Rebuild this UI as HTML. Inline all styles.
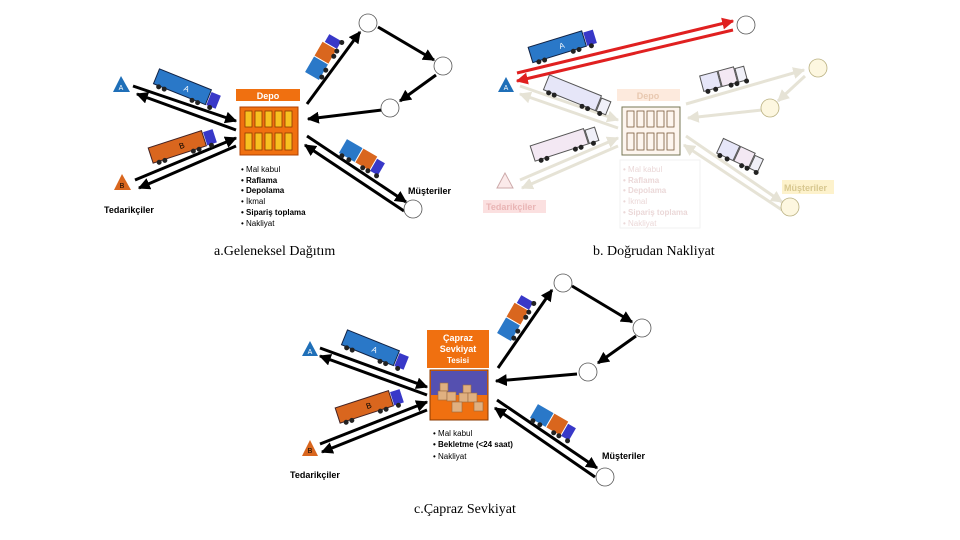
<!DOCTYPE html>
<html><head><meta charset="utf-8"><style>
body{margin:0;background:#fff;width:960px;height:540px;overflow:hidden}
svg{display:block}
text{font-family:"Liberation Sans",sans-serif}
.cap{font-family:"Liberation Serif",serif;font-size:14px}
.b{font-weight:bold}
</style></head><body>
<svg width="960" height="540" viewBox="0 0 960 540">
<defs>
<marker id="ah" viewBox="0 0 10 10" refX="9" refY="5" markerWidth="4" markerHeight="4" orient="auto"><path d="M0,0L10,5L0,10z" fill="#000"/></marker>
<marker id="ar" viewBox="0 0 10 10" refX="9" refY="5" markerWidth="4" markerHeight="4" orient="auto"><path d="M0,0L10,5L0,10z" fill="#e02020"/></marker>
<marker id="ap" viewBox="0 0 10 10" refX="9" refY="5" markerWidth="4" markerHeight="4" orient="auto"><path d="M0,0L10,5L0,10z" fill="#e6e3d6"/></marker>
<g id="wh"><circle cx="-28" cy="9" r="2.5" fill="#222"/><circle cx="-22" cy="9" r="2.5" fill="#222"/><circle cx="8" cy="9" r="2.5" fill="#222"/><circle cx="14" cy="9" r="2.5" fill="#222"/><circle cx="27" cy="9" r="2.5" fill="#222"/></g>
<g id="wh2"><circle cx="-18" cy="9" r="2.5" fill="#222"/><circle cx="-10" cy="9" r="2.5" fill="#222"/><circle cx="6" cy="9" r="2.5" fill="#222"/><circle cx="12" cy="9" r="2.5" fill="#222"/><circle cx="22" cy="9" r="2.5" fill="#222"/></g>
</defs>

<!-- ===== a ===== -->
<g stroke="#000" stroke-width="3" fill="none" marker-end="url(#ah)">
<line x1="133" y1="86" x2="236" y2="121"/>
<line x1="236" y1="130" x2="137" y2="94"/>
<line x1="135" y1="180" x2="236" y2="138"/>
<line x1="236" y1="146" x2="139" y2="188"/>
<line x1="307" y1="104" x2="360" y2="32"/>
<line x1="378" y1="27" x2="434" y2="60"/>
<line x1="436" y1="75" x2="400" y2="101"/>
<line x1="382" y1="110" x2="308" y2="119"/>
<line x1="307" y1="136" x2="406" y2="202"/>
<line x1="404" y1="211" x2="305" y2="145"/>
</g>
<polygon points="121,76 113,92 130,92" fill="#1f6fb8"/><text x="121" y="90" font-size="7" fill="#fff" text-anchor="middle">A</text>
<polygon points="122,174 114,190 131,190" fill="#d9661e"/><text x="122" y="188" font-size="7" fill="#000" text-anchor="middle">B</text>
<text x="104" y="213" font-size="9" class="b">Tedarikçiler</text>
<rect x="236" y="89" width="64" height="12" fill="#f07010"/><text x="268" y="99" font-size="9" fill="#fff" text-anchor="middle" class="b">Depo</text>
<rect x="240" y="107" width="58" height="48" fill="#f07010" stroke="#b04000"/>
<g fill="#f8c020" stroke="#8a3a00" stroke-width="0.8">
<rect x="245" y="111" width="7" height="16"/><rect x="255" y="111" width="7" height="16"/><rect x="265" y="111" width="7" height="16"/><rect x="275" y="111" width="7" height="16"/><rect x="285" y="111" width="7" height="16"/>
<rect x="245" y="133" width="7" height="17"/><rect x="255" y="133" width="7" height="17"/><rect x="265" y="133" width="7" height="17"/><rect x="275" y="133" width="7" height="17"/><rect x="285" y="133" width="7" height="17"/>
</g>
<g font-size="8"><text x="241" y="172">• Mal kabul</text><text x="241" y="183" class="b">• Raflama</text><text x="241" y="193" class="b">• Depolama</text><text x="241" y="204">• İkmal</text><text x="241" y="215" class="b">• Sipariş toplama</text><text x="241" y="226">• Nakliyat</text></g>
<g fill="#fff" stroke="#555" stroke-width="0.8"><circle cx="368" cy="23" r="9"/><circle cx="443" cy="66" r="9"/><circle cx="390" cy="108" r="9"/><circle cx="413" cy="209" r="9"/></g>
<text x="408" y="194" font-size="9" class="b">Müşteriler</text>
<text x="214" y="255" class="cap">a.Geleneksel Dağıtım</text>
<!-- trucks a -->
<g transform="translate(188,89) rotate(22)"><rect x="-34" y="-8" width="56" height="16" fill="#2a78c8" stroke="#124"/><rect x="23" y="-6" width="10" height="14" fill="#3838c8"/><use href="#wh"/><text x="-4" y="3" font-size="8" fill="#fff">A</text></g>
<g transform="translate(183,145) rotate(-18)"><rect x="-34" y="-8" width="56" height="16" fill="#d9661e" stroke="#422"/><rect x="23" y="-6" width="10" height="14" fill="#3838c8"/><use href="#wh"/><text x="-4" y="3" font-size="8">B</text></g>
<g transform="translate(323,57) rotate(-60)"><rect x="-22" y="-8" width="18" height="16" fill="#2a78c8"/><rect x="-3" y="-8" width="16" height="16" fill="#d9661e"/><rect x="14" y="-6" width="9" height="14" fill="#3838c8"/><use href="#wh2"/></g>
<g transform="translate(362,157) rotate(30)"><rect x="-22" y="-8" width="18" height="16" fill="#2a78c8"/><rect x="-3" y="-8" width="16" height="16" fill="#d9661e"/><rect x="14" y="-6" width="9" height="14" fill="#3838c8"/><use href="#wh2"/></g>

<!-- ===== b ===== -->
<g stroke="#e6e3d6" stroke-width="3" fill="none" marker-end="url(#ap)">
<line x1="520" y1="86" x2="618" y2="120"/>
<line x1="618" y1="128" x2="520" y2="94"/>
<line x1="520" y1="180" x2="618" y2="138"/>
<line x1="618" y1="146" x2="522" y2="188"/>
<line x1="686" y1="104" x2="804" y2="70"/>
<line x1="805" y1="76" x2="778" y2="101"/>
<line x1="762" y1="110" x2="688" y2="118"/>
<line x1="686" y1="136" x2="782" y2="202"/>
<line x1="782" y1="210" x2="684" y2="145"/>
</g>
<g stroke="#e02020" stroke-width="3" fill="none" marker-end="url(#ar)">
<line x1="517" y1="73" x2="733" y2="21"/>
<line x1="733" y1="30" x2="517" y2="81"/>
</g>
<polygon points="506,77 498,92 514,92" fill="#1f6fb8"/><text x="506" y="90" font-size="7" fill="#fff" text-anchor="middle">A</text>
<polygon points="505,173 497,188 513,188" fill="#fbeaea" stroke="#caa"/>
<rect x="483" y="200" width="63" height="13" fill="#fbe0e0"/><text x="486" y="210" font-size="9" class="b" fill="#e9b5b5">Tedarikçiler</text>
<rect x="617" y="89" width="63" height="12" fill="#fdeadd"/><text x="648" y="99" font-size="9" fill="#e8c8b0" text-anchor="middle" class="b">Depo</text>
<rect x="622" y="107" width="58" height="48" fill="#fdf5ee" stroke="#775"/>
<g fill="none" stroke="#7a5a3a" stroke-width="0.8">
<rect x="627" y="111" width="7" height="16"/><rect x="637" y="111" width="7" height="16"/><rect x="647" y="111" width="7" height="16"/><rect x="657" y="111" width="7" height="16"/><rect x="667" y="111" width="7" height="16"/>
<rect x="627" y="133" width="7" height="17"/><rect x="637" y="133" width="7" height="17"/><rect x="647" y="133" width="7" height="17"/><rect x="657" y="133" width="7" height="17"/><rect x="667" y="133" width="7" height="17"/>
</g>
<rect x="620" y="160" width="80" height="68" fill="none" stroke="#f2f2f2"/>
<g font-size="8" fill="#ebd8d8"><text x="623" y="172">• Mal kabul</text><text x="623" y="183" class="b">• Raflama</text><text x="623" y="193" class="b">• Depolama</text><text x="623" y="204">• İkmal</text><text x="623" y="215" class="b">• Sipariş toplama</text><text x="623" y="226">• Nakliyat</text></g>
<circle cx="746" cy="25" r="9" fill="#fff" stroke="#555" stroke-width="0.8"/>
<g fill="#fdf7e0" stroke="#b9b080" stroke-width="0.8"><circle cx="818" cy="68" r="9"/><circle cx="770" cy="108" r="9"/><circle cx="790" cy="207" r="9"/></g>
<rect x="782" y="180" width="52" height="14" fill="#fdf2cc"/><text x="784" y="191" font-size="9" class="b" fill="#d8c890">Müşteriler</text>
<text x="593" y="255" class="cap">b. Doğrudan Nakliyat</text>
<g transform="translate(563,45) rotate(-17)"><rect x="-34" y="-8" width="56" height="16" fill="#2a78c8" stroke="#124"/><rect x="23" y="-6" width="10" height="14" fill="#3838c8"/><use href="#wh"/><text x="-4" y="3" font-size="8" fill="#fff">A</text></g>
<g transform="translate(578,95) rotate(22)"><rect x="-34" y="-8" width="56" height="16" fill="#e6e6f8" stroke="#555"/><rect x="23" y="-6" width="10" height="14" fill="#f0f0f8" stroke="#555"/><use href="#wh"/></g>
<g transform="translate(565,143) rotate(-18)"><rect x="-34" y="-8" width="56" height="16" fill="#f3e8f3" stroke="#555"/><rect x="23" y="-6" width="10" height="14" fill="#f0f0f8" stroke="#555"/><use href="#wh"/></g>
<g transform="translate(723,78) rotate(-15)"><rect x="-22" y="-8" width="18" height="16" fill="#e6e6f8" stroke="#555"/><rect x="-3" y="-8" width="16" height="16" fill="#f3e8f3" stroke="#555"/><rect x="14" y="-6" width="9" height="14" fill="#f0f0f8" stroke="#555"/><use href="#wh2"/></g>
<g transform="translate(740,155) rotate(25)"><rect x="-22" y="-8" width="18" height="16" fill="#e6e6f8" stroke="#555"/><rect x="-3" y="-8" width="16" height="16" fill="#f3e8f3" stroke="#555"/><rect x="14" y="-6" width="9" height="14" fill="#f0f0f8" stroke="#555"/><use href="#wh2"/></g>

<!-- ===== c ===== -->
<g stroke="#000" stroke-width="3" fill="none" marker-end="url(#ah)">
<line x1="320" y1="348" x2="427" y2="387"/>
<line x1="427" y1="395" x2="320" y2="356"/>
<line x1="320" y1="444" x2="427" y2="402"/>
<line x1="427" y1="410" x2="322" y2="452"/>
<line x1="498" y1="368" x2="552" y2="290"/>
<line x1="572" y1="286" x2="632" y2="322"/>
<line x1="636" y1="336" x2="598" y2="363"/>
<line x1="577" y1="374" x2="496" y2="381"/>
<line x1="497" y1="400" x2="597" y2="468"/>
<line x1="595" y1="477" x2="495" y2="408"/>
</g>
<polygon points="310,341 302,356 318,356" fill="#1f6fb8"/><text x="310" y="354" font-size="7" fill="#fff" text-anchor="middle">A</text>
<polygon points="310,440 302,456 318,456" fill="#d9661e"/><text x="310" y="453" font-size="7" text-anchor="middle">B</text>
<text x="290" y="478" font-size="9" class="b">Tedarikçiler</text>
<rect x="427" y="330" width="62" height="38" fill="#f07010"/>
<g font-size="9" fill="#fff" class="b" text-anchor="middle"><text x="458" y="341">Çapraz</text><text x="458" y="352">Sevkiyat</text><text x="458" y="363" font-size="8">Tesisi</text></g>
<rect x="430" y="370" width="58" height="50" fill="#f07010" stroke="#8a3a00"/>
<rect x="431" y="371" width="56" height="24" fill="#5550b0"/>
<g fill="#e0b080" stroke="#9a6a40" stroke-width="0.6"><rect x="440" y="383" width="8" height="8"/><rect x="438" y="391" width="9" height="9"/><rect x="447" y="392" width="9" height="9"/><rect x="463" y="385" width="8" height="8"/><rect x="459" y="393" width="9" height="9"/><rect x="468" y="393" width="9" height="9"/><rect x="452" y="402" width="10" height="10"/><rect x="474" y="402" width="9" height="9"/></g>
<g font-size="8"><text x="433" y="436">• Mal kabul</text><text x="433" y="447" class="b">• Bekletme (&lt;24 saat)</text><text x="433" y="459">• Nakliyat</text></g>
<g fill="#fff" stroke="#555" stroke-width="0.8"><circle cx="563" cy="283" r="9"/><circle cx="642" cy="328" r="9"/><circle cx="588" cy="372" r="9"/><circle cx="605" cy="477" r="9"/></g>
<text x="602" y="459" font-size="9" class="b">Müşteriler</text>
<text x="414" y="513" class="cap">c.Çapraz Sevkiyat</text>
<g transform="translate(376,350) rotate(22)"><rect x="-34" y="-8" width="56" height="16" fill="#2a78c8" stroke="#124"/><rect x="23" y="-6" width="10" height="14" fill="#3838c8"/><use href="#wh"/><text x="-4" y="3" font-size="8" fill="#fff">A</text></g>
<g transform="translate(370,405) rotate(-18)"><rect x="-34" y="-8" width="56" height="16" fill="#d9661e" stroke="#422"/><rect x="23" y="-6" width="10" height="14" fill="#3838c8"/><use href="#wh"/><text x="-4" y="3" font-size="8">B</text></g>
<g transform="translate(515,318) rotate(-60)"><rect x="-22" y="-8" width="18" height="16" fill="#2a78c8"/><rect x="-3" y="-8" width="16" height="16" fill="#d9661e"/><rect x="14" y="-6" width="9" height="14" fill="#3838c8"/><use href="#wh2"/></g>
<g transform="translate(553,422) rotate(30)"><rect x="-22" y="-8" width="18" height="16" fill="#2a78c8"/><rect x="-3" y="-8" width="16" height="16" fill="#d9661e"/><rect x="14" y="-6" width="9" height="14" fill="#3838c8"/><use href="#wh2"/></g>
</svg>
</body></html>
